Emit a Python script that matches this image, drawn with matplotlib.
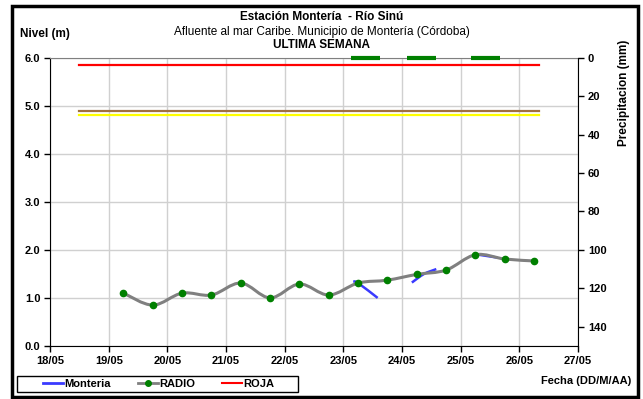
import matplotlib.pyplot as plt
import matplotlib.dates as mdates
from matplotlib.path import Path
from matplotlib.patches import PathPatch, Rectangle
from matplotlib.lines import Line2D
import numpy as np
from datetime import datetime

plt.rcParams['font.family'] = ['Liberation Sans', 'DejaVu Sans']

# RADIO level readings (every 12 h)
radio_times = ['19/05 06:00', '19/05 18:00', '20/05 06:00', '20/05 18:00',
               '21/05 06:00', '21/05 18:00', '22/05 06:00', '22/05 18:00',
               '23/05 06:00', '23/05 18:00', '24/05 06:00', '24/05 18:00',
               '25/05 06:00', '25/05 18:00', '26/05 06:00']
radio_level = [1.10, 0.85, 1.10, 1.06, 1.31, 1.00, 1.29, 1.06,
               1.31, 1.37, 1.49, 1.58, 1.90, 1.81, 1.77]

# Monteria sensor segments
monteria_times = [['23/05 04:00', '23/05 06:00', '23/05 14:00'],
                  ['24/05 04:00', '24/05 09:00', '24/05 14:00'],
                  ['25/05 06:00', '25/05 15:00']]
monteria_level = [[1.34, 1.31, 1.00],
                  [1.32, 1.50, 1.60],
                  [1.91, 1.84]]

# alert thresholds
alert_names = ['ROJA', 'NARANJA', 'AMARILLA']
alert_level = [5.85, 4.90, 4.80]
alert_colors = ['#ff0000', '#a07040', '#ffff00']
alert_start, alert_end = '18/05 12:00', '26/05 08:00'

# precipitation (mm)
precip_times = ['23/05 09:00', '24/05 08:00', '25/05 10:00']
precip_mm = [0, 0, 0]


def to_num(s):
    return mdates.date2num(datetime.strptime('2021/' + s, '%Y/%d/%m %H:%M'))


def smooth_path(xs, ys):
    # Excel-style smoothed line as cubic bezier (Catmull-Rom control points)
    pts = np.column_stack([xs, ys])
    verts = [pts[0]]
    codes = [Path.MOVETO]
    n = len(pts)
    for i in range(n - 1):
        p0 = pts[i - 1] if i > 0 else pts[i]
        p1, p2 = pts[i], pts[i + 1]
        p3 = pts[i + 2] if i + 2 < n else pts[i + 1]
        c1 = p1 + (p2 - p0) / 6.0
        c2 = p2 - (p3 - p1) / 6.0
        verts += [c1, c2, p2]
        codes += [Path.CURVE4] * 3
    return Path(verts, codes)


fig = plt.figure(figsize=(6.43, 3.99), dpi=100)
ax = fig.add_axes([0.078, 0.133, 0.821, 0.722])

ax.set_xlim(to_num('18/05 00:00'), to_num('27/05 00:00'))
ax.set_ylim(0, 6)
ax.xaxis.set_major_locator(mdates.DayLocator())
ax.xaxis.set_major_formatter(mdates.DateFormatter('%d/%m'))
ax.set_yticks(np.arange(0, 6.1, 1.0))
ax.yaxis.set_major_formatter(plt.FormatStrFormatter('%.1f'))
ax.grid(True, color='#d0d0d0', linewidth=1)
ax.set_axisbelow(True)
ax.tick_params(direction='out', length=4, labelsize=8, width=1, pad=3)
for lab in ax.get_xticklabels() + ax.get_yticklabels():
    lab.set_fontweight('bold')
ax.spines['top'].set_color('#808080')
ax.spines['right'].set_visible(False)

# alert lines
for lvl, col in zip(alert_level, alert_colors):
    ax.plot([to_num(alert_start), to_num(alert_end)], [lvl, lvl], color=col, lw=1.6, zorder=3)

# RADIO smoothed line + markers
rx = [to_num(t) for t in radio_times]
ax.add_patch(PathPatch(smooth_path(rx, radio_level), facecolor='none',
                       edgecolor='#808080', lw=2.2, zorder=4))

# Monteria segments
for ts, vs in zip(monteria_times, monteria_level):
    mx = [to_num(t) for t in ts]
    ax.add_patch(PathPatch(smooth_path(mx, vs), facecolor='none',
                           edgecolor='#3a3aff', lw=1.8, zorder=3.5))

ax.plot(rx, radio_level, linestyle='none', marker='o', ms=4.5,
        color='#008000', zorder=5)

# precipitation on inverted right axis
ax2 = ax.twinx()
ax2.set_ylim(150, 0)
ax2.set_yticks(np.arange(0, 141, 20))
ax2.tick_params(direction='out', length=4, labelsize=8, width=1, pad=3)
for lab in ax2.get_yticklabels():
    lab.set_fontweight('bold')
ax2.spines['top'].set_visible(False)
ax2.spines['left'].set_visible(False)
ax2.spines['bottom'].set_visible(False)
px = [to_num(t) for t in precip_times]
ax2.hlines(precip_mm, [p - 0.25 for p in px], [p + 0.25 for p in px],
           color='#008000', lw=3, zorder=6, clip_on=False)
ax2.set_ylabel('Precipitacion (mm)', fontsize=8.5, fontweight='bold', labelpad=6)
ax2.yaxis.set_label_coords(1.075, 0.88)

# titles
fig.text(0.5, 0.958, 'Estación Montería  - Río Sinú', ha='center', va='center',
         fontsize=8.5, fontweight='bold')
fig.text(0.5, 0.92, 'Afluente al mar Caribe. Municipio de Montería (Córdoba)',
         ha='center', va='center', fontsize=8.5)
fig.text(0.5, 0.888, 'ULTIMA SEMANA', ha='center', va='center',
         fontsize=8.5, fontweight='bold')
fig.text(0.031, 0.915, 'Nivel (m)', ha='left', va='center', fontsize=8.5,
         fontweight='bold')
fig.text(0.981, 0.045, 'Fecha (DD/M/AA)', ha='right', va='center',
         fontsize=8, fontweight='bold')

# legend (entries spread inside a separately drawn box)
handles = [Line2D([], [], color='#3a3aff', lw=2),
           Line2D([], [], color='#808080', lw=2, marker='o', ms=4,
                  mfc='#008000', mec='#008000'),
           Line2D([], [], color='#ff0000', lw=1.5)]
leg = fig.legend(handles, ['Monteria', 'RADIO', 'ROJA'], loc='center left',
                 bbox_to_anchor=(0.067, 0.0375, 0.36, 0.0), mode='expand',
                 ncol=3, frameon=False,
                 handlelength=1.8, handletextpad=0.1,
                 borderpad=0.0, borderaxespad=0, prop={'weight': 'bold', 'size': 8})
fig.add_artist(Rectangle((0.027, 0.018), 0.437, 0.039, transform=fig.transFigure,
                         fill=False, edgecolor='black', lw=1))

# outer border
fig.add_artist(Rectangle((0.019, 0.006), 0.973, 0.98, transform=fig.transFigure,
                         fill=False, edgecolor='black', lw=2.5))

fig.savefig('out.png', dpi=100)
